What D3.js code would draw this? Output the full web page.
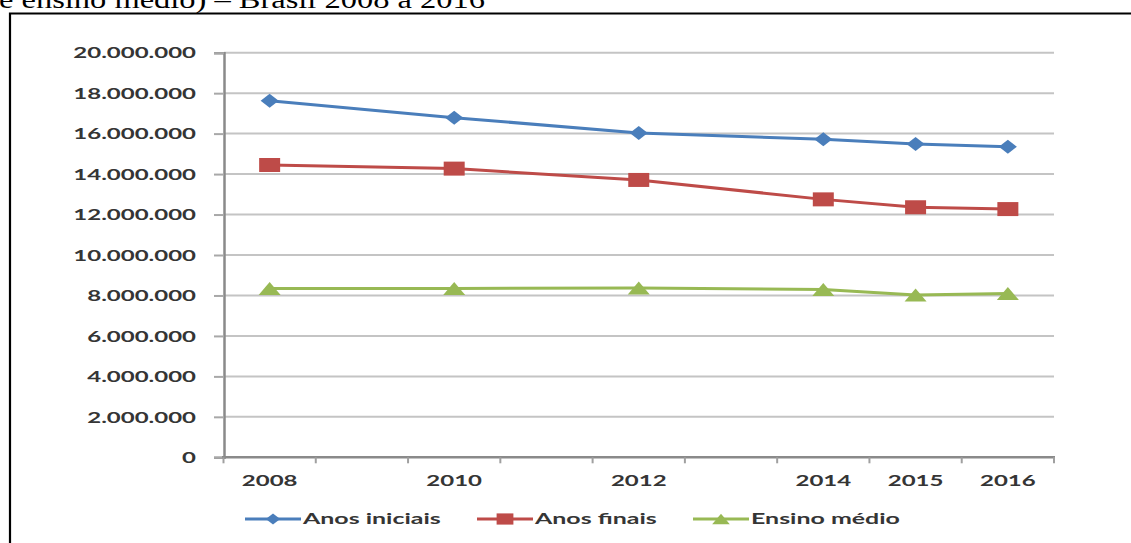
<!DOCTYPE html>
<html>
<head>
<meta charset="utf-8">
<script src="https://cdn.jsdelivr.net/npm/d3@7"></script>
<style>
  html, body { margin: 0; padding: 0; background: #fff; }
  svg { display: block; }
</style>
</head>
<body>
<svg id="chart" width="1131" height="543"></svg>
<script>
// Matrículas no ensino fundamental (anos iniciais e finais) e ensino médio – Brasil 2008 a 2016
const categories = ["2008", "2009", "2010", "2011", "2012", "2013", "2014", "2015", "2016"];
const tickLabels = ["2008", "", "2010", "", "2012", "", "2014", "2015", "2016"];
const years = ["2008", "2010", "2012", "2014", "2015", "2016"];
const anosIniciais = [17630000, 16790000, 16030000, 15720000, 15490000, 15350000];
const anosFinais   = [14450000, 14270000, 13710000, 12750000, 12360000, 12270000];
const ensinoMedio  = [8350000, 8350000, 8370000, 8300000, 8020000, 8100000];
const yTicks = [0, 2000000, 4000000, 6000000, 8000000, 10000000, 12000000, 14000000, 16000000, 18000000, 20000000];
const seriesNames = ["Anos iniciais", "Anos finais", "Ensino médio"];

const series = [
  { name: seriesNames[0], values: anosIniciais, color: "#4a7ebb", marker: "diamond" },
  { name: seriesNames[1], values: anosFinais,   color: "#be4b48", marker: "square" },
  { name: seriesNames[2], values: ensinoMedio,  color: "#98b954", marker: "triangle" }
];

const SX = 1.6;            // horizontal stretch of the chart lettering
const FONT = "Lato, 'Open Sans', sans-serif";
const TEXT = "#353535";

const svg = d3.select("#chart");
svg.append("rect").attr("width", 1131).attr("height", 543).attr("fill", "#fff");

// caption above the frame
svg.append("text")
  .attr("x", -1).attr("y", 8)
  .attr("font-family", "'Liberation Serif', 'Times New Roman', serif")
  .attr("font-size", 25)
  .attr("fill", "#000")
  .attr("textLength", 486).attr("lengthAdjust", "spacingAndGlyphs")
  .text("e ensino médio) – Brasil 2008 a 2016");

// frame
svg.append("path")
  .attr("d", "M10,560 V13.5 H1140")
  .attr("fill", "none").attr("stroke", "#000").attr("stroke-width", 2.2);

const x = d3.scaleBand().domain(categories).range([223.5, 1054]).paddingInner(0).paddingOuter(0);
const y = d3.scaleLinear().domain([0, 20000000]).range([457.3, 52.7]);

const ptBR = d3.formatLocale({ decimal: ",", thousands: ".", grouping: [3], currency: ["R$", ""] });
const fmt = ptBR.format(",");

// horizontal gridlines
svg.append("g").selectAll("line")
  .data(yTicks.filter(d => d > 0))
  .join("line")
  .attr("x1", 224).attr("x2", 1054)
  .attr("y1", d => y(d)).attr("y2", d => y(d))
  .attr("stroke", "#c4c4c4").attr("stroke-width", 2);

// y axis
const yAxis = svg.append("g")
  .attr("transform", "translate(224,0)")
  .call(d3.axisLeft(y).tickValues(yTicks).tickFormat(fmt).tickSize(10).tickPadding(0));
yAxis.select(".domain").attr("stroke", "#8a8a8a").attr("stroke-width", 2.5);
yAxis.selectAll(".tick line").attr("stroke", "#a8a8a8").attr("stroke-width", 2);
yAxis.selectAll(".tick text")
  .attr("x", -28 / SX)
  .attr("dy", "0.35em")
  .attr("transform", `scale(${SX},1)`)
  .attr("font-family", FONT).attr("font-weight", 700).attr("font-size", 15)
  .attr("fill", TEXT);

// x axis: line, boundary ticks, centred labels
const xAxis = svg.append("g").attr("transform", `translate(0,${y(0)})`);
xAxis.append("line")
  .attr("x1", 222).attr("x2", x.range()[1] + 1)
  .attr("stroke", "#8a8a8a").attr("stroke-width", 2.5);
xAxis.selectAll("line.b")
  .data(categories.concat(["end"]))
  .join("line").attr("class", "b")
  .attr("x1", (d, i) => i < categories.length ? x(d) : x(categories[categories.length - 1]) + x.bandwidth())
  .attr("x2", (d, i) => i < categories.length ? x(d) : x(categories[categories.length - 1]) + x.bandwidth())
  .attr("y1", 0).attr("y2", 6)
  .attr("stroke", "#a0a0a0").attr("stroke-width", 2);
xAxis.selectAll("g.lbl")
  .data(categories)
  .join("g").attr("class", "lbl")
  .attr("transform", d => `translate(${x(d) + x.bandwidth() / 2},23) scale(${SX},1)`)
  .append("text")
  .attr("text-anchor", "middle").attr("dy", "0.35em")
  .attr("font-family", FONT).attr("font-weight", 700).attr("font-size", 15)
  .attr("fill", TEXT)
  .text((d, i) => tickLabels[i]);

// marker shapes (wider than tall, like the lettering)
function markerPath(type, w, h) {
  if (type === "diamond") return `M${-w / 2},0 L0,${-h / 2} L${w / 2},0 L0,${h / 2} Z`;
  if (type === "square") return `M${-w / 2},${-h / 2} H${w / 2} V${h / 2} H${-w / 2} Z`;
  return `M${-w / 2},${h / 2} L0,${-h / 2} L${w / 2},${h / 2} Z`;
}
const markerSize = { diamond: [18, 14], square: [21, 14], triangle: [22, 13] };

const cx = d => x(d) + x.bandwidth() / 2;
const line = d3.line().x(d => cx(d.year)).y(d => y(d.value));

series.forEach(s => {
  const pts = years.map((yr, i) => ({ year: yr, value: s.values[i] }));
  const g = svg.append("g");
  g.append("path")
    .datum(pts)
    .attr("d", line)
    .attr("fill", "none").attr("stroke", s.color).attr("stroke-width", 3)
    .attr("stroke-linejoin", "round");
  const [w, h] = markerSize[s.marker];
  g.selectAll("path.m")
    .data(pts)
    .join("path").attr("class", "m")
    .attr("transform", d => `translate(${cx(d.year)},${y(d.value)})`)
    .attr("d", markerPath(s.marker, w, h))
    .attr("fill", s.color);
});

// legend
const legendX = [245, 477, 693];
const legend = svg.append("g").attr("transform", "translate(0,519)");
series.forEach((s, i) => {
  const lx = legendX[i];
  legend.append("line")
    .attr("x1", lx).attr("x2", lx + 56)
    .attr("stroke", s.color).attr("stroke-width", 3);
  const [w, h] = markerSize[s.marker];
  legend.append("path")
    .attr("transform", `translate(${lx + 28},0)`)
    .attr("d", markerPath(s.marker, w * 0.8, h * 0.8))
    .attr("fill", s.color);
  legend.append("g")
    .attr("transform", `translate(${lx + 58},0) scale(${SX},1)`)
    .append("text")
    .attr("dy", "0.35em")
    .attr("font-family", FONT).attr("font-weight", 700).attr("font-size", 15.6)
    .attr("fill", TEXT)
    .text(s.name);
});
</script>
</body>
</html>
